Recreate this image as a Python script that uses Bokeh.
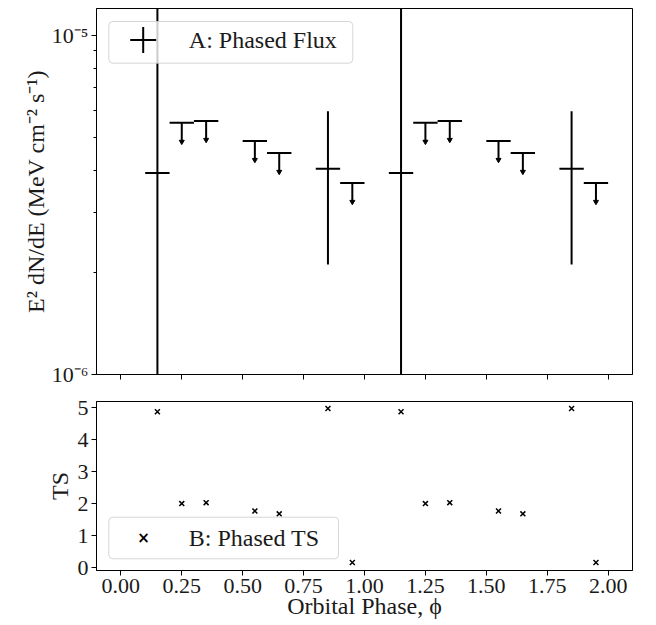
import numpy as np
from bokeh.plotting import figure
from bokeh.models import (Range1d, FixedTicker, CustomJSTickFormatter, PrintfTickFormatter,
                          BoxAnnotation, Label, CustomLabelingPolicy)
from bokeh.layouts import column
from bokeh.embed import file_html
from bokeh.resources import INLINE

# ---------------- data (one orbital cycle, shown twice) ----------------
phase = [0.15, 0.25, 0.35, 0.55, 0.65, 0.85, 0.95]
bin_half_width = [0.05, 0.05, 0.05, 0.05, 0.05, 0.05, 0.05]
flux = [3.93e-6, 5.52e-6, 5.59e-6, 4.88e-6, 4.50e-6, 4.04e-6, 3.67e-6]
flux_err = [9.0e-6, 0.0, 0.0, 0.0, 0.0, 1.93e-6, 0.0]
upper_limit = [False, True, True, True, True, False, True]
ts = [4.87, 2.00, 2.03, 1.77, 1.68, 4.97, 0.16]
n_cycles = 2

phase_ticks = [0.0, 0.25, 0.5, 0.75, 1.0, 1.25, 1.5, 1.75, 2.0]
ts_ticks = [0, 1, 2, 3, 4, 5]
flux_major_ticks = [1e-6, 1e-5]
flux_minor_ticks = [2e-6, 3e-6, 4e-6, 5e-6, 6e-6, 7e-6, 8e-6, 9e-6]

# ---------------- styling constants ----------------
FONT = "Liberation Serif"
FS = "22px"        # tick labels
FS_LABEL = "24px"  # axis labels and legend texts
ARROW = 0.88       # relative length of upper-limit arrows
COLOR = "black"
TEXT_COLOR = "#1a1a1a"

ph = np.concatenate([np.array(phase) + k for k in range(n_cycles)])
hw = np.tile(bin_half_width, n_cycles)
fl = np.tile(flux, n_cycles)
fe = np.tile(flux_err, n_cycles)
ul = np.tile(upper_limit, n_cycles)
tsv = np.tile(ts, n_cycles)
det = ~ul

x_range = Range1d(-0.1, 2.1)


def style_axes(p):
    for ax in p.axis:
        ax.axis_line_color = "black"
        ax.axis_line_width = 1
        ax.major_tick_line_color = "black"
        ax.major_tick_line_width = 1
        ax.major_tick_in = 0
        ax.major_tick_out = 5
        ax.minor_tick_in = 0
        ax.minor_tick_out = 3
        ax.minor_tick_line_color = "black"
        ax.minor_tick_line_width = 1
        ax.major_label_text_font = FONT
        ax.major_label_text_font_size = FS
        ax.major_label_text_color = TEXT_COLOR
        ax.axis_label_text_font = FONT
        ax.axis_label_text_font_size = FS_LABEL
        ax.axis_label_text_font_style = "normal"
        ax.axis_label_text_color = TEXT_COLOR
    p.grid.visible = False
    p.outline_line_color = "black"
    p.outline_line_width = 1
    p.outline_line_alpha = 1
    p.background_fill_color = "white"
    p.border_fill_color = "white"


def add_legend(p, box, glyph_center, text, glyph="cross"):
    left, right, bottom, top = box
    p.add_layout(BoxAnnotation(left=left, right=right, bottom=bottom, top=top,
                               left_units="screen", right_units="screen",
                               bottom_units="screen", top_units="screen",
                               fill_color="white", fill_alpha=0.8,
                               line_color="#cccccc", line_alpha=0.8, line_width=1,
                               border_radius=4))
    gx, gy = glyph_center
    if glyph == "cross":
        half = 13
        p.add_layout(BoxAnnotation(left=gx - 1, right=gx + 1, bottom=gy - half, top=gy + half,
                                   left_units="screen", right_units="screen",
                                   bottom_units="screen", top_units="screen",
                                   fill_color=COLOR, fill_alpha=1, line_color=None))
        p.add_layout(BoxAnnotation(left=gx - half, right=gx + half, bottom=gy - 1, top=gy + 1,
                                   left_units="screen", right_units="screen",
                                   bottom_units="screen", top_units="screen",
                                   fill_color=COLOR, fill_alpha=1, line_color=None))
    else:
        p.add_layout(Label(x=gx, y=gy, x_units="screen", y_units="screen", text="×",
                           text_font="DejaVu Sans", text_font_size="15px",
                           text_font_style="bold",
                           text_align="center", text_baseline="middle", text_color=COLOR))
    p.add_layout(Label(x=left + 80, y=gy, x_units="screen", y_units="screen", text=text,
                       text_font=FONT, text_font_size=FS_LABEL, text_align="left",
                       text_baseline="middle", text_color=TEXT_COLOR))


# ---------------- top panel: phased flux ----------------
p1 = figure(width=656, height=390, x_range=x_range, y_range=Range1d(1e-6, 1.2e-5),
            y_axis_type="log", output_backend="svg", toolbar_location=None,
            min_border_left=96, min_border_right=24, min_border_top=8, min_border_bottom=16)
style_axes(p1)

# horizontal (phase-bin) bars for every point
p1.segment(x0=ph - hw, x1=ph + hw, y0=fl, y1=fl, line_color=COLOR, line_width=2)
# vertical error bars for detections
lo = np.clip(fl[det] - fe[det], 1e-12, None)
hi = fl[det] + fe[det]
p1.segment(x0=ph[det], x1=ph[det], y0=lo, y1=hi, line_color=COLOR, line_width=2)
# upper-limit arrows
p1.segment(x0=ph[ul], x1=ph[ul], y0=fl[ul], y1=fl[ul] * ARROW, line_color=COLOR, line_width=2)
p1.scatter(ph[ul], fl[ul] * ARROW, marker="inverted_triangle", size=5,
           fill_color=COLOR, line_color=COLOR)

p1.xaxis.ticker = FixedTicker(ticks=phase_ticks)
p1.xaxis.major_label_text_font_size = "0px"
p1.xaxis.major_label_standoff = 0
p1.xaxis.major_label_policy = CustomLabelingPolicy(code="""
for (const i of Array.from(indices)) { indices.unset(i) }
return indices
""")
p1.xaxis.minor_tick_line_color = None
p1.yaxis.ticker = FixedTicker(ticks=flux_major_ticks, minor_ticks=flux_minor_ticks)
p1.yaxis.formatter = CustomJSTickFormatter(code="""
const e = Math.round(Math.log10(tick));
const sup = {"-": "\u207b", "0": "\u2070", "1": "\u00b9", "2": "\u00b2", "3": "\u00b3",
             "4": "\u2074", "5": "\u2075", "6": "\u2076", "7": "\u2077", "8": "\u2078", "9": "\u2079"};
return "10" + String(e).split("").map(c => sup[c]).join("");
""")
p1.yaxis.major_label_standoff = 3
p1.yaxis.axis_label_standoff = 0
p1.yaxis.axis_label = "E² dN/dE (MeV cm⁻² s⁻¹)"

add_legend(p1, box=(12.3, 256.3, 311.3, 353.0), glyph_center=(46.7, 334.5),
           text="A: Phased Flux", glyph="cross")

# ---------------- bottom panel: phased TS ----------------
p2 = figure(width=656, height=235, x_range=x_range, y_range=Range1d(-0.09, 5.19),
            output_backend="svg", toolbar_location=None,
            min_border_left=96, min_border_right=24, min_border_top=11, min_border_bottom=55)
style_axes(p2)
p2.scatter(ph, tsv, marker="x", size=7, line_width=1.5, line_color=COLOR)

p2.xaxis.ticker = FixedTicker(ticks=phase_ticks)
p2.xaxis.formatter = PrintfTickFormatter(format="%.2f")
p2.xaxis.minor_tick_line_color = None
p2.xaxis.major_label_standoff = 3
p2.xaxis.axis_label_standoff = -3
p2.xaxis.axis_label = "Orbital Phase, ϕ"
p2.yaxis.ticker = FixedTicker(ticks=ts_ticks)
p2.yaxis.minor_tick_line_color = None
p2.yaxis.major_label_standoff = 3
p2.yaxis.axis_label_standoff = 2
p2.yaxis.axis_label = "TS"

add_legend(p2, box=(12.3, 242.0, 11.7, 53.3), glyph_center=(47.0, 33.0),
           text="B: Phased TS", glyph="x")

layout = column(p1, p2, spacing=0)
open("out.html", "w").write(file_html(layout, INLINE))
